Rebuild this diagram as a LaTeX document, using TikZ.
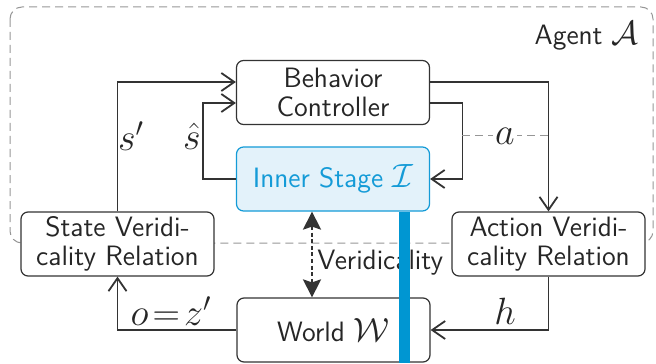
\documentclass[tikz,border=0pt]{standalone}
\usepackage{fix-cm}
\usetikzlibrary{arrows.meta,calc}
\definecolor{linegray}{RGB}{51,51,51}
\definecolor{dashgray}{RGB}{150,150,150}
\definecolor{stageblue}{RGB}{20,155,215}
\definecolor{stagefill}{RGB}{227,242,250}
\definecolor{barblue}{RGB}{0,150,210}
\newcommand\bigcal[1]{{\fontsize{16.8}{14.5}\selectfont$\mathcal{#1}$}}
\tikzset{
  box/.style={draw=linegray, line width=0.6pt, rounded corners=3.5pt, fill=white,
    minimum width=96.5pt, minimum height=32pt, inner sep=0pt, align=center,
    font=\sffamily\fontsize{14}{14.5}\selectfont, text=black!85},
  stagebox/.style={box, draw=stageblue, fill=stagefill, text=stageblue},
  arr/.style={draw=linegray, line width=0.6pt, -{Straight Barb[length=6.5pt,width=9pt,line width=0.9pt]}},
  gdash/.style={draw=dashgray, line width=0.5pt, dash pattern=on 4pt off 2.5pt},
  verid/.style={draw=linegray, line width=1.1pt, dash pattern=on 2pt off 1.3pt,
    {Stealth[length=9pt,width=9pt,inset=1.5pt]}-{Stealth[length=9pt,width=9pt,inset=1.5pt]}},
  mlabel/.style={font=\fontsize{19}{21}\selectfont, text=black!85, inner sep=1pt},
  tlabel/.style={font=\sffamily\fontsize{14}{14.5}\selectfont, text=black!85, inner sep=0pt}
}
\begin{document}
\begin{tikzpicture}[x=0.5pt,y=-0.5pt]
\useasboundingbox (0,0) rectangle (656,363);
% agent frame
\draw[gdash, rounded corners=6pt] (10,7) rectangle (653,243);
\node[tlabel, anchor=east] (agent) at (639,36) {Agent \bigcal{A}};
% boxes
\node[box] (BC) at (333,92.5) {Behavior\\Controller};
\node[stagebox] (IS) at (333,179) {Inner Stage \bigcal{I}};
\node[box] (SV) at (117.5,244) {State Veridi-\\cality Relation};
\node[box] (AV) at (548.5,244) {Action Veridi-\\cality Relation};
\node[box, minimum height=32pt] (W) at (333.5,330) {World \bigcal{W}};
% connectors
\draw[arr] (SV.north) |- ([yshift=5.25pt]BC.west);
\draw[arr] (IS.west) -- ++(-33,0) |- ([yshift=-5.25pt]BC.west);
\draw[arr] ([yshift=-5.25pt]BC.east) -- ++(32,0) |- (IS.east);
\draw[arr] ([yshift=5.25pt]BC.east) -| (AV.north);
\coordinate (a1) at (462,136);
\coordinate (a2) at (548,136);
\draw[gdash] (a1) -- node[mlabel, fill=white] (alab) {$a$} (a2);
\draw[arr] (AV.south) |- (W.east);
\draw[arr] (W.west) -| (SV.south);
\node[mlabel] (hlab) at (505,311) {$h$};
\node[mlabel] (olab) at (171,311) {$o\!=\!z'$};
\node[mlabel] (splab) at (131,136) {$s'$};
\node[mlabel] (shlab) at (192,136) {$\hat{s}$};
\draw[verid] ([xshift=-10.5pt]IS.south) -- ([xshift=-10.75pt]W.north);
\node[tlabel, anchor=west] (vlab) at (317,263) {Veridicality};
% bar
\coordinate (barend) at (404.5,363);
\draw[barblue, line width=5.5pt] ([xshift=35.75pt,yshift=-0.3pt]IS.south) -- (barend);
\end{tikzpicture}
\end{document}
